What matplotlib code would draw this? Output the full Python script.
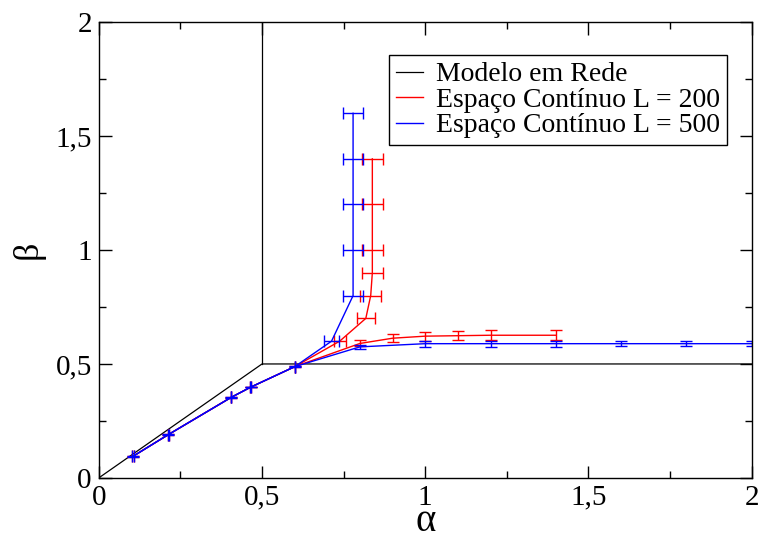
import matplotlib.pyplot as plt
from matplotlib.ticker import MultipleLocator, FuncFormatter

# lattice model boundary
lattice_alpha = [0.0, 0.5, 2.0]
lattice_beta = [0.0, 0.5, 0.5]
lattice_v_alpha = [0.5, 0.5]
lattice_v_beta = [0.5, 2.0]

# shared lower part (both L)
low_alpha = [0.105, 0.213, 0.405, 0.465, 0.60]
low_beta_200 = [0.095, 0.19, 0.353, 0.398, 0.488]
low_beta_500 = [0.095, 0.19, 0.353, 0.398, 0.488]
low_xerr = [0.002, 0.002, 0.0, 0.002, 0.0]
low_yerr = [0.002, 0.002, 0.002, 0.0, 0.002]

# L = 200, vertical branch
r_v_alpha = [0.738, 0.818, 0.833, 0.838, 0.838, 0.838, 0.838]
r_v_beta = [0.60, 0.70, 0.80, 0.90, 1.0, 1.2, 1.4]
r_v_xerr = [0.018, 0.028, 0.032, 0.033, 0.032, 0.032, 0.032]
# L = 200, horizontal branch
r_h_alpha = [0.80, 0.90, 1.0, 1.1, 1.2, 1.4]
r_h_beta = [0.59, 0.613, 0.622, 0.624, 0.626, 0.626]
r_h_yerr = [0.013, 0.018, 0.02, 0.02, 0.023, 0.023]

# L = 500, vertical branch
b_v_alpha = [0.713, 0.779, 0.779, 0.779, 0.779, 0.779]
b_v_beta = [0.60, 0.80, 1.0, 1.2, 1.4, 1.6]
b_v_xerr = [0.023, 0.031, 0.031, 0.031, 0.031, 0.031]
# L = 500, horizontal branch
b_h_alpha = [0.80, 1.0, 1.2, 1.4, 1.6, 1.8, 2.0]
b_h_beta = [0.575, 0.589, 0.589, 0.589, 0.589, 0.589, 0.589]
b_h_yerr = [0.01, 0.013, 0.013, 0.013, 0.01, 0.01, 0.01]

plt.rcParams['font.family'] = ['Liberation Serif', 'DejaVu Serif']

fig = plt.figure(figsize=(7.6, 5.4), dpi=100)
ax = fig.add_axes([0.130, 0.115, 0.859, 0.844])

ax.plot(lattice_alpha, lattice_beta, color='black', lw=0.9, label='Modelo em Rede')
ax.plot(lattice_v_alpha, lattice_v_beta, color='black', lw=0.9)


def draw_series(color, low_beta, v_a, v_b, v_xe, h_a, h_b, h_ye, label):
    ax.plot(low_alpha + v_a, low_beta + v_b, color=color, lw=1.0, label=label)
    ax.plot(low_alpha + h_a, low_beta + h_b, color=color, lw=1.0)
    ax.errorbar(low_alpha, low_beta, xerr=low_xerr, yerr=low_yerr, fmt='none',
                ecolor=color, elinewidth=1.0, capsize=4.5, capthick=1.0)
    ax.errorbar(v_a, v_b, xerr=v_xe, fmt='none', ecolor=color,
                elinewidth=1.0, capsize=4.5, capthick=1.0)
    ax.errorbar(h_a, h_b, yerr=h_ye, fmt='none', ecolor=color,
                elinewidth=1.0, capsize=4.5, capthick=1.0)


draw_series('red', low_beta_200, r_v_alpha, r_v_beta, r_v_xerr,
            r_h_alpha, r_h_beta, r_h_yerr, 'Espaço Contínuo L = 200')
draw_series('blue', low_beta_500, b_v_alpha, b_v_beta, b_v_xerr,
            b_h_alpha, b_h_beta, b_h_yerr, 'Espaço Contínuo L = 500')

ax.set_xlim(0, 2)
ax.set_ylim(0, 2)

fmt = FuncFormatter(lambda v, p: ('%g' % v).replace('.', ','))
for axis in (ax.xaxis, ax.yaxis):
    axis.set_major_locator(MultipleLocator(0.5))
    axis.set_minor_locator(MultipleLocator(0.25))
    axis.set_major_formatter(fmt)
ax.tick_params(which='both', direction='in', top=True, right=True, labelsize=21, width=1.0)
ax.tick_params(which='major', length=9, pad=5)
ax.tick_params(which='minor', length=5)
for s in ax.spines.values():
    s.set_linewidth(1.0)

ax.set_xlabel('α', fontsize=28, va='bottom')
ax.xaxis.set_label_coords(0.5, -0.136)
ax.set_ylabel('β', fontsize=26, labelpad=8)

leg = ax.legend(loc='upper right', bbox_to_anchor=(0.962, 0.928), fontsize=20,
                frameon=True, fancybox=False, framealpha=1, edgecolor='black',
                handlelength=1.0, labelspacing=0.0, borderpad=0.25, handletextpad=0.45,
                borderaxespad=0)
leg.get_frame().set_linewidth(1.0)

fig.savefig('out.png', dpi=100)
